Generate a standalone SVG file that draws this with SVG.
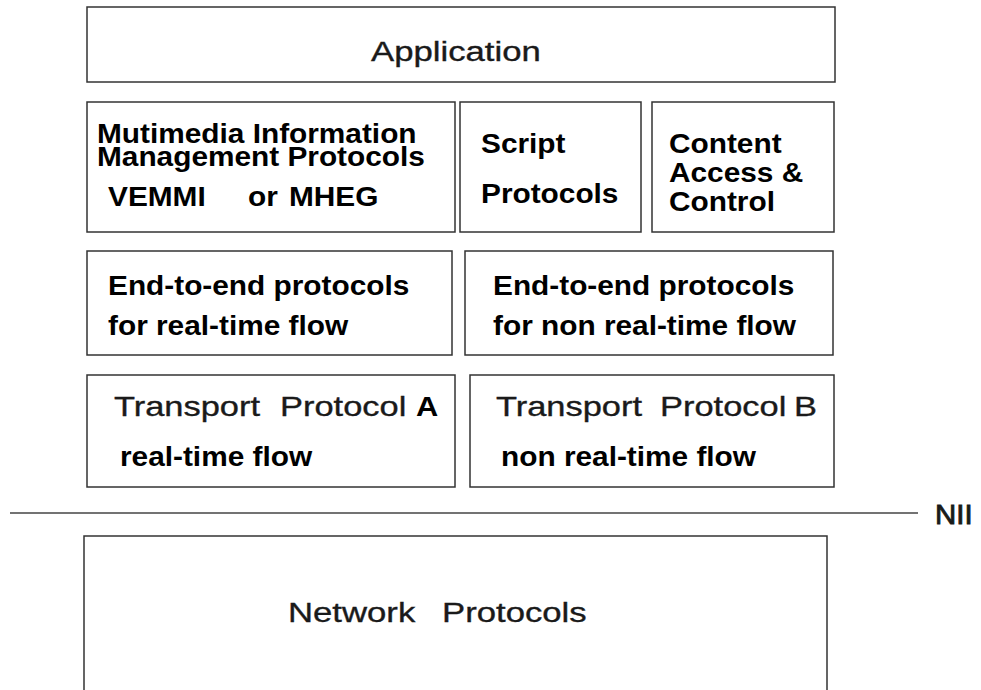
<svg xmlns="http://www.w3.org/2000/svg" width="981" height="690" viewBox="0 0 981 690">
  <style>
    .box { fill: #fff; stroke: #333; stroke-width: 1.5; }
    .b { font-family: "Liberation Sans", Arial, sans-serif; font-size: 28px; font-weight: bold; fill: #000; }
    .r { font-family: "Liberation Sans", Arial, sans-serif; font-size: 28px; fill: #1a1a1a; stroke: #1a1a1a; stroke-width: 0.35; }
    .rb { font-family: "Liberation Sans", Arial, sans-serif; font-size: 28px; font-weight: bold; fill: #000; }
    .line { stroke: #444; stroke-width: 1.5; fill: none; }
  </style>
  <rect width="981" height="690" fill="#fff"/>

  <g id="application">
    <rect class="box" x="87" y="7" width="748" height="75"/>
    <text class="r" transform="translate(371,61) scale(1.24,1)">Application</text>
  </g>

  <g id="multimedia-info-mgmt">
    <rect class="box" x="87" y="102" width="368" height="130"/>
    <text class="b" transform="translate(97,143) scale(1.065,1)">Mutimedia Information</text>
    <text class="b" transform="translate(97,166) scale(1.065,1)">Management Protocols</text>
    <text class="b" transform="translate(108,206) scale(1.065,1)">VEMMI</text>
    <text class="b" transform="translate(248,206) scale(1.065,1)">or</text>
    <text class="b" transform="translate(289,206) scale(1.065,1)">MHEG</text>
  </g>

  <g id="script-protocols">
    <rect class="box" x="460" y="102" width="181" height="130"/>
    <text class="b" transform="translate(481,153) scale(1.065,1)">Script</text>
    <text class="b" transform="translate(481,203) scale(1.065,1)">Protocols</text>
  </g>

  <g id="content-access-control">
    <rect class="box" x="652" y="102" width="182" height="130"/>
    <text class="b" transform="translate(669,153) scale(1.065,1)">Content</text>
    <text class="b" transform="translate(669,182) scale(1.065,1)">Access &amp;</text>
    <text class="b" transform="translate(669,211) scale(1.065,1)">Control</text>
  </g>

  <g id="e2e-realtime">
    <rect class="box" x="87" y="251" width="365" height="104"/>
    <text class="b" transform="translate(108,295) scale(1.065,1)">End-to-end protocols</text>
    <text class="b" transform="translate(108,335) scale(1.065,1)">for real-time flow</text>
  </g>

  <g id="e2e-non-realtime">
    <rect class="box" x="465" y="251" width="368" height="104"/>
    <text class="b" transform="translate(493,295) scale(1.065,1)">End-to-end protocols</text>
    <text class="b" transform="translate(493,335) scale(1.065,1)">for non real-time flow</text>
  </g>

  <g id="transport-a">
    <rect class="box" x="87" y="375" width="368" height="112"/>
    <text class="r" transform="translate(114,416) scale(1.23,1)">Transport</text>
    <text class="r" transform="translate(280,416) scale(1.23,1)">Protocol</text>
    <text class="rb" transform="translate(416,416) scale(1.1,1)">A</text>
    <text class="b" transform="translate(120,466) scale(1.065,1)">real-time flow</text>
  </g>

  <g id="transport-b">
    <rect class="box" x="470" y="375" width="364" height="112"/>
    <text class="r" transform="translate(496,416) scale(1.23,1)">Transport</text>
    <text class="r" transform="translate(660,416) scale(1.23,1)">Protocol</text>
    <text class="r" transform="translate(794,416) scale(1.23,1)">B</text>
    <text class="b" transform="translate(501,466) scale(1.065,1)">non real-time flow</text>
  </g>

  <g id="nii-boundary">
    <line class="line" x1="10" y1="513" x2="918" y2="513"/>
    <text class="r" transform="translate(935,524) scale(1.05,1)" style="stroke-width:0.9">NII</text>
  </g>

  <g id="network-protocols">
    <path class="box" d="M84,690 V536 H827 V690"/>
    <text class="r" transform="translate(288,622) scale(1.24,1)">Network</text>
    <text class="r" transform="translate(442,622) scale(1.24,1)">Protocols</text>
  </g>
</svg>
